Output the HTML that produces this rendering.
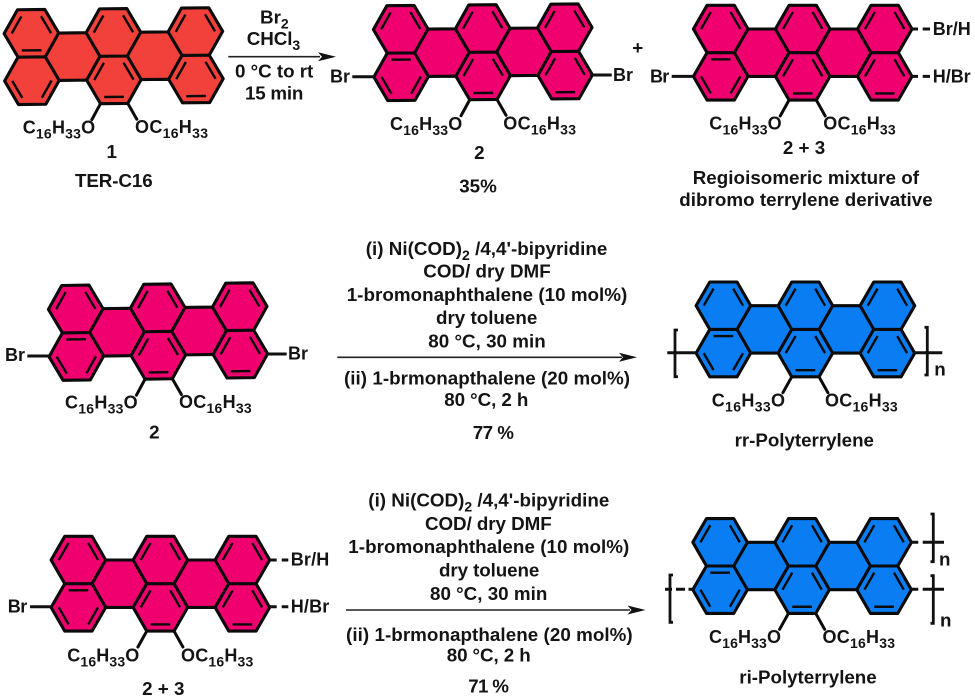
<!DOCTYPE html>
<html><head><meta charset="utf-8"><style>
html,body{margin:0;padding:0;background:#fff}
svg{display:block}
text{font-family:"Liberation Sans",Arial,sans-serif;font-weight:bold;font-size:18.8px;fill:#141414}
.l{font-size:18px}
.s{font-size:14px}
.c{text-anchor:middle}
</style></head><body>
<svg width="975" height="699" viewBox="0 0 975 699" xmlns="http://www.w3.org/2000/svg">
<defs>
<g id="core" stroke="#0a0a0a" stroke-width="3.1" stroke-linejoin="round" stroke-linecap="round">
<path d="M-27.3 0L-13.65 -23.7L13.65 -23.7L27.3 0L54.7 0L68.35 -23.7L95.65 -23.7L109.3 0L136.7 0L150.35 -23.7L177.65 -23.7L191.3 0L177.65 23.7L191.3 47.4L177.65 71.1L150.35 71.1L136.7 47.4L109.3 47.4L95.65 71.1L68.35 71.1L54.7 47.4L27.3 47.4L13.65 71.1L-13.65 71.1L-27.3 47.4L-13.65 23.7Z"/>
<path fill="none" d="M-13.65 23.7H13.65M27.3 0L13.65 23.7L27.3 47.4M54.7 0L68.35 23.7L54.7 47.4M68.35 23.7H95.65M109.3 0L95.65 23.7L109.3 47.4M136.7 0L150.35 23.7L136.7 47.4M150.35 23.7H177.65"/>
<path fill="none" stroke-width="2.4" stroke-linecap="butt" d="M-19.66 0L-9.83 -17.06M9.83 -17.06L19.66 0M62.34 0L72.17 -17.06M91.83 -17.06L101.66 0M144.34 0L154.17 -17.06M173.83 -17.06L183.66 0M62.34 47.4L72.17 30.34M91.83 30.34L101.66 47.4M72.17 64.46H91.83M144.34 47.4L154.17 30.34M173.83 30.34L183.66 47.4M154.17 64.46H173.83"/>
<path fill="none" stroke="#0a0a0a" stroke-width="3" d="M68.35 71.1L59.5 87M95.65 71.1L104.5 87"/>
</g>
<path id="a1" fill="none" stroke="#0a0a0a" stroke-width="2.4" d="M-9.83 17.06H9.83M-19.66 47.4L-9.83 64.46M9.83 64.46L19.66 47.4"/>
<path id="a2" fill="none" stroke="#0a0a0a" stroke-width="2.4" d="M-9.83 30.34H9.83M-19.66 47.4L-9.83 64.46M9.83 64.46L19.66 47.4"/>
</defs>

<!-- Structure 1 -->
<g transform="translate(31.4 33.3) rotate(-0.6)" fill="#f2403a"><use href="#core"/><use href="#a1"/></g>
<text class="l" x="22.7" y="133.5" textLength="72.5">C<tspan class="s" dy="5">16</tspan><tspan dy="-5">H</tspan><tspan class="s" dy="5">33</tspan><tspan dy="-5">O</tspan></text>
<text class="l" x="135" y="133" textLength="73">OC<tspan class="s" dy="5">16</tspan><tspan dy="-5">H</tspan><tspan class="s" dy="5">33</tspan></text>
<text class="c" x="111.7" y="158">1</text>
<text x="75" y="187" textLength="77.7">TER-C16</text>

<!-- Arrow 1 text -->
<text x="260" y="23.3">Br<tspan class="s" dy="5">2</tspan></text>
<text x="246.7" y="45" textLength="53.5">CHCl<tspan class="s" dy="5">3</tspan></text>
<text x="235" y="77.3" textLength="78.3">0 °C to rt</text>
<text x="245" y="99.3" textLength="58.3">15 min</text>
<path d="M228.3 56.7H320" stroke="#222" stroke-width="1.6"/>
<path d="M336 56.7L318 52.2L322 56.7L318 61.2Z" fill="#111"/>

<!-- Structure 2 top -->
<g transform="translate(400.7 29.3) rotate(-0.55)" fill="#f0006e"><use href="#core"/><use href="#a2"/></g>
<path d="M352.3 76.7H374M591.7 75H611.7" stroke="#111" stroke-width="3"/>
<text class="l" x="330" y="82.7" textLength="20">Br</text>
<text class="l" x="613" y="81" textLength="20">Br</text>
<text class="l" x="390" y="130" textLength="72.3">C<tspan class="s" dy="5">16</tspan><tspan dy="-5">H</tspan><tspan class="s" dy="5">33</tspan><tspan dy="-5">O</tspan></text>
<text class="l" x="503.3" y="129.5" textLength="72.7">OC<tspan class="s" dy="5">16</tspan><tspan dy="-5">H</tspan><tspan class="s" dy="5">33</tspan></text>
<text class="c" x="479.3" y="159">2</text>
<text class="c" x="478" y="192.7">35%</text>

<text class="c" x="637.7" y="54">+</text>

<!-- Structure 3 top -->
<g transform="translate(720.7 29)" fill="#f0006e"><use href="#core"/><use href="#a2"/></g>
<path d="M671.7 76.4H693.5M911.7 29H918M911.7 76.4H918M922.7 29H930M922.7 76.4H930" stroke="#111" stroke-width="3"/>
<text class="l" x="650" y="82.7" textLength="19.3">Br</text>
<text class="l" x="932.7" y="35" textLength="38">Br/H</text>
<text class="l" x="932.7" y="82.7" textLength="38">H/Br</text>
<text class="l" x="709.3" y="129.3" textLength="72.4">C<tspan class="s" dy="5">16</tspan><tspan dy="-5">H</tspan><tspan class="s" dy="5">33</tspan><tspan dy="-5">O</tspan></text>
<text class="l" x="823.3" y="129.3" textLength="72.4">OC<tspan class="s" dy="5">16</tspan><tspan dy="-5">H</tspan><tspan class="s" dy="5">33</tspan></text>
<text class="c" x="804" y="154">2 + 3</text>
<text x="692.7" y="184" textLength="226.3">Regioisomeric mixture of</text>
<text x="679.3" y="206" textLength="253.4">dibromo terrylene derivative</text>

<!-- Middle left -->
<g transform="translate(75.7 309) rotate(-0.8)" fill="#f0006e"><use href="#core"/><use href="#a2"/></g>
<path d="M27.3 356H49.7M266.7 354H286.7" stroke="#111" stroke-width="3"/>
<text class="l" x="5" y="361" textLength="20">Br</text>
<text class="l" x="288" y="359.3" textLength="20">Br</text>
<text class="l" x="65" y="408.3" textLength="72.7">C<tspan class="s" dy="5">16</tspan><tspan dy="-5">H</tspan><tspan class="s" dy="5">33</tspan><tspan dy="-5">O</tspan></text>
<text class="l" x="179" y="408" textLength="72.7">OC<tspan class="s" dy="5">16</tspan><tspan dy="-5">H</tspan><tspan class="s" dy="5">33</tspan></text>
<text class="c" x="154.3" y="438.3">2</text>

<!-- Middle reagents -->
<text x="365.7" y="255" textLength="241.6">(i) Ni(COD)<tspan class="s" dy="5">2</tspan><tspan dy="-5"> /4,4'-bipyridine</tspan></text>
<text x="423.3" y="277.3" textLength="127.4">COD/ dry DMF</text>
<text x="346.7" y="301" textLength="280.6">1-bromonaphthalene (10 mol%)</text>
<text x="436" y="324" textLength="101.3">dry toluene</text>
<text x="428.3" y="347.3" textLength="117.4">80 °C, 30 min</text>
<path d="M337.3 357.3H622" stroke="#222" stroke-width="1.6"/>
<path d="M637 357.3L619 352.8L623 357.3L619 361.8Z" fill="#111"/>
<text x="344" y="384.3" textLength="286">(ii) 1-brmonapthalene (20 mol%)</text>
<text x="444.3" y="406" textLength="84">80 °C, 2 h</text>
<text x="472.7" y="439" textLength="41.3">77 %</text>

<!-- Poly 1 -->
<g transform="translate(723.4 305.7)" fill="#0a7df2"><use href="#core"/><use href="#a2"/></g>
<path d="M667.3 352.7H696M914 352.7H942.3" stroke="#111" stroke-width="3"/>
<path d="M678 330H675V376.7H678M924.5 327.3H927.3V375H924.5" fill="none" stroke="#111" stroke-width="2.8"/>
<text x="934.3" y="375.7" textLength="10">n</text>
<text class="l" x="711.7" y="406.7" textLength="73.3">C<tspan class="s" dy="5">16</tspan><tspan dy="-5">H</tspan><tspan class="s" dy="5">33</tspan><tspan dy="-5">O</tspan></text>
<text class="l" x="825" y="406.7" textLength="72.7">OC<tspan class="s" dy="5">16</tspan><tspan dy="-5">H</tspan><tspan class="s" dy="5">33</tspan></text>
<text x="734.6" y="446.7" textLength="139.4">rr-Polyterrylene</text>

<!-- Bottom left -->
<g transform="translate(78.4 560)" fill="#f0006e"><use href="#core"/><use href="#a2"/></g>
<path d="M30 606.7H51.5M269.3 560H276.7M269.3 606.7H276.7M281.7 560H288.3M281.7 606.7H288.3" stroke="#111" stroke-width="3"/>
<text class="l" x="7.7" y="612.7" textLength="19.6">Br</text>
<text class="l" x="290.7" y="565.7" textLength="38.6">Br/H</text>
<text class="l" x="290.7" y="612.7" textLength="38.6">H/Br</text>
<text class="l" x="67.3" y="661.7" textLength="72">C<tspan class="s" dy="5">16</tspan><tspan dy="-5">H</tspan><tspan class="s" dy="5">33</tspan><tspan dy="-5">O</tspan></text>
<text class="l" x="181" y="661.7" textLength="72.3">OC<tspan class="s" dy="5">16</tspan><tspan dy="-5">H</tspan><tspan class="s" dy="5">33</tspan></text>
<text class="c" x="163.3" y="695">2 + 3</text>

<!-- Bottom reagents -->
<text x="368.3" y="506.7" textLength="241">(i) Ni(COD)<tspan class="s" dy="5">2</tspan><tspan dy="-5"> /4,4'-bipyridine</tspan></text>
<text x="425" y="530" textLength="126.7">COD/ dry DMF</text>
<text x="348.3" y="553" textLength="281">1-bromonaphthalene (10 mol%)</text>
<text x="439" y="576.7" textLength="100.3">dry toluene</text>
<text x="430" y="600" textLength="117.3">80 °C, 30 min</text>
<path d="M346 610H630" stroke="#222" stroke-width="1.6"/>
<path d="M645.5 610L627.5 605.5L631.5 610L627.5 614.5Z" fill="#111"/>
<text x="346" y="641" textLength="286.7">(ii) 1-brmonapthalene (20 mol%)</text>
<text x="446.7" y="661.7" textLength="84">80 °C, 2 h</text>
<text x="468.3" y="692.7" textLength="40.7">71 %</text>

<!-- Poly 2 -->
<g transform="translate(720.1 542.3)" fill="#0a7df2"><use href="#core"/><use href="#a2"/></g>
<path d="M665 589.3H672M676 589.3H685M688.5 589.3H692.7M910.7 542.3H918.3M910.7 589.3H918.3M922.7 542.3H944M922.7 589.3H944" stroke="#111" stroke-width="3"/>
<path d="M673 575H670V622.3H673M930.5 514H933.3V561.7H930.5M930.5 575.7H933.3V623.3H930.5" fill="none" stroke="#111" stroke-width="2.8"/>
<text x="939" y="565.7" textLength="10">n</text>
<text x="940" y="626.7" textLength="10">n</text>
<text class="l" x="709" y="643" textLength="72">C<tspan class="s" dy="5">16</tspan><tspan dy="-5">H</tspan><tspan class="s" dy="5">33</tspan><tspan dy="-5">O</tspan></text>
<text class="l" x="822.5" y="643" textLength="72.5">OC<tspan class="s" dy="5">16</tspan><tspan dy="-5">H</tspan><tspan class="s" dy="5">33</tspan></text>
<text x="739.3" y="683.3" textLength="137.4">ri-Polyterrylene</text>
</svg>
</body></html>
